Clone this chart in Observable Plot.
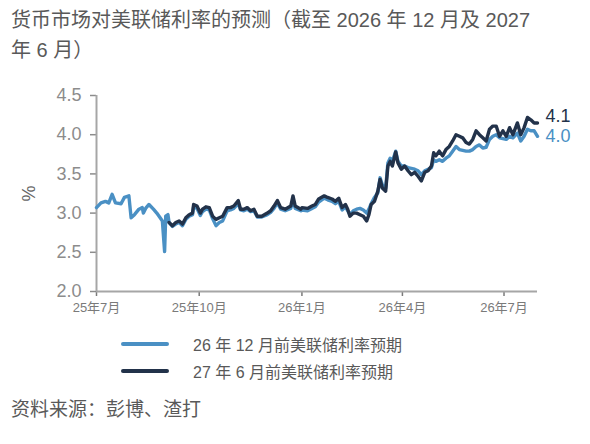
<!DOCTYPE html>
<html>
<head>
<meta charset="utf-8">
<script src="https://cdn.jsdelivr.net/npm/d3@7"></script>
<script src="https://cdn.jsdelivr.net/npm/@observablehq/plot@0.6"></script>
<style>
  html, body { margin:0; padding:0; background:#fff; }
  body { width:590px; height:444px; overflow:hidden; position:relative;
         font-family:"Liberation Sans","Noto Sans CJK SC",sans-serif; color:#595959; }
  #title { position:absolute; left:11px; top:5px; font-size:20px; line-height:30px; white-space:nowrap; }
  #chart { position:absolute; left:0; top:65px; }
  #legend { position:absolute; left:121px; top:330px; font-size:16px; }
  .row { display:flex; align-items:center; height:27.5px; }
  .sw { width:48px; height:4px; border-radius:2px; margin-right:24px; }
  #source { position:absolute; left:11px; top:395px; font-size:19px; line-height:30px; }
</style>
</head>
<body>
<div id="title"></div>
<div id="chart"></div>
<div id="legend"></div>
<div id="source"></div>
<script>
// ---------- text ----------
const titleLines = ["货币市场对美联储利率的预测（截至 2026 年 12 月及 2027", "年 6 月）"];
const sourceText = "资料来源：彭博、渣打";
const seriesNames = ["26 年 12 月前美联储利率预期", "27 年 6 月前美联储利率预期"];
const seriesColors = ["#4a90c4", "#22324a"];
const endLabels = ["4.0", "4.1"];

// ---------- axes ----------
const xStart = "2025-07-01";
const xEnd = "2026-07-31";
const xTicks = ["2025-07-01", "2025-10-01", "2026-01-01", "2026-04-01", "2026-07-01"];
const xTickLabels = ["25年7月", "25年10月", "26年1月", "26年4月", "26年7月"];
const yTicks = [2.0, 2.5, 3.0, 3.5, 4.0, 4.5];
const yLabel = "%";

// ---------- series: Dec-2026 expectation (light blue) ----------
const lightDates = [
  "2025-07-01","2025-07-05","2025-07-09","2025-07-12","2025-07-15","2025-07-18","2025-07-23","2025-07-26",
  "2025-07-30","2025-08-01","2025-08-04","2025-08-08","2025-08-11","2025-08-12","2025-08-14","2025-08-17",
  "2025-08-21","2025-08-24","2025-08-27","2025-08-29","2025-08-31","2025-09-01","2025-09-03",
  "2025-09-04","2025-09-07","2025-09-10","2025-09-13","2025-09-16","2025-09-19","2025-09-22","2025-09-25",
  "2025-09-26","2025-09-29","2025-10-02","2025-10-04","2025-10-07","2025-10-10","2025-10-13","2025-10-16",
  "2025-10-19","2025-10-22","2025-10-26","2025-10-29","2025-11-01","2025-11-05","2025-11-07","2025-11-10",
  "2025-11-13","2025-11-16","2025-11-19","2025-11-22","2025-11-26","2025-12-01","2025-12-04","2025-12-07",
  "2025-12-10","2025-12-13","2025-12-17","2025-12-22","2025-12-24","2025-12-26","2025-12-31",
  "2026-01-01","2026-01-06","2026-01-10","2026-01-13","2026-01-16","2026-01-21","2026-01-24","2026-01-28",
  "2026-01-31","2026-02-03","2026-02-06","2026-02-09","2026-02-11","2026-02-13","2026-02-16","2026-02-19",
  "2026-02-22","2026-02-25","2026-02-28","2026-03-02","2026-03-04","2026-03-07","2026-03-10","2026-03-12",
  "2026-03-14","2026-03-17","2026-03-19","2026-03-21","2026-03-23","2026-03-26","2026-03-28","2026-03-31",
  "2026-04-03","2026-04-06","2026-04-09","2026-04-12","2026-04-15","2026-04-18","2026-04-21","2026-04-24",
  "2026-04-27","2026-04-29","2026-05-01","2026-05-04","2026-05-07","2026-05-10","2026-05-13","2026-05-16",
  "2026-05-19","2026-05-22","2026-05-25","2026-05-28","2026-05-31","2026-06-03","2026-06-06","2026-06-09",
  "2026-06-12","2026-06-15","2026-06-18","2026-06-21","2026-06-24","2026-06-27","2026-06-30","2026-07-03",
  "2026-07-06","2026-07-09","2026-07-13","2026-07-16","2026-07-19","2026-07-22","2026-07-25","2026-07-28",
  "2026-07-31"
];
const lightValues = [
  3.07,3.13,3.15,3.13,3.24,3.13,3.12,3.20,
  3.22,2.94,2.98,3.05,3.07,3.00,3.06,3.11,
  3.05,3.00,2.94,2.90,2.51,2.96,2.98,
  2.88,2.83,2.86,2.88,2.84,2.92,2.96,2.98,
  3.08,3.06,2.97,3.02,3.05,3.04,2.93,2.84,
  2.88,2.90,3.03,3.04,3.06,3.12,3.04,3.03,
  3.05,3.02,3.03,2.95,2.95,2.98,3.01,3.06,
  3.13,3.05,3.03,3.06,3.17,3.06,3.03,
  3.04,3.03,3.06,3.08,3.14,3.19,3.17,3.15,
  3.12,3.15,3.04,3.08,3.03,2.98,3.03,3.05,
  3.06,3.04,3.00,3.05,3.12,3.20,3.26,3.45,
  3.36,3.32,3.64,3.70,3.66,3.79,3.66,3.60,
  3.60,3.58,3.57,3.56,3.54,3.49,3.54,3.56,
  3.58,3.68,3.66,3.68,3.66,3.70,3.73,3.79,
  3.85,3.81,3.80,3.79,3.79,3.81,3.85,3.87,
  3.83,3.84,3.94,3.98,4.00,3.96,3.95,3.94,
  3.98,3.96,4.02,3.92,3.98,4.07,4.05,4.05,
  3.98
];

// ---------- series: Jun-2027 expectation (dark navy) ----------
const darkDates = [
  "2025-09-04","2025-09-07","2025-09-10","2025-09-13","2025-09-16","2025-09-19","2025-09-22","2025-09-25",
  "2025-09-26","2025-09-29","2025-10-02","2025-10-04","2025-10-07","2025-10-10","2025-10-13","2025-10-16",
  "2025-10-19","2025-10-22","2025-10-26","2025-10-29","2025-11-01","2025-11-05","2025-11-07","2025-11-10",
  "2025-11-13","2025-11-16","2025-11-19","2025-11-22","2025-11-26","2025-12-01","2025-12-04","2025-12-07",
  "2025-12-10","2025-12-13","2025-12-17","2025-12-22","2025-12-24","2025-12-26","2025-12-31",
  "2026-01-01","2026-01-06","2026-01-10","2026-01-13","2026-01-16","2026-01-21","2026-01-24","2026-01-28",
  "2026-01-31","2026-02-03","2026-02-06","2026-02-09","2026-02-11","2026-02-13","2026-02-16","2026-02-19",
  "2026-02-22","2026-02-25","2026-02-28","2026-03-02","2026-03-04","2026-03-07","2026-03-10","2026-03-12",
  "2026-03-14","2026-03-17","2026-03-19","2026-03-21","2026-03-23","2026-03-26","2026-03-28","2026-03-31",
  "2026-04-03","2026-04-06","2026-04-09","2026-04-12","2026-04-15","2026-04-18","2026-04-21","2026-04-24",
  "2026-04-27","2026-04-29","2026-05-01","2026-05-04","2026-05-07","2026-05-10","2026-05-13","2026-05-16",
  "2026-05-19","2026-05-22","2026-05-25","2026-05-28","2026-05-31","2026-06-03","2026-06-06","2026-06-09",
  "2026-06-12","2026-06-15","2026-06-18","2026-06-21","2026-06-24","2026-06-27","2026-06-30","2026-07-03",
  "2026-07-06","2026-07-09","2026-07-13","2026-07-16","2026-07-19","2026-07-22","2026-07-25","2026-07-28",
  "2026-07-31"
];
const darkValues = [
  2.88,2.84,2.88,2.90,2.86,2.94,2.98,3.00,
  3.11,3.09,3.00,3.05,3.08,3.07,2.96,2.92,
  2.94,2.96,3.07,3.07,3.09,3.16,3.05,3.05,
  3.07,3.03,3.05,2.96,2.96,3.00,3.03,3.09,
  3.16,3.07,3.05,3.09,3.22,3.09,3.05,
  3.07,3.06,3.09,3.11,3.18,3.22,3.20,3.18,
  3.15,3.19,3.07,3.11,3.05,2.96,3.00,3.00,
  2.98,2.96,2.90,2.98,3.11,3.15,3.28,3.43,
  3.32,3.28,3.60,3.66,3.60,3.78,3.64,3.56,
  3.60,3.54,3.49,3.52,3.47,3.41,3.52,3.54,
  3.60,3.77,3.73,3.79,3.73,3.81,3.85,3.92,
  4.00,3.98,3.96,3.90,3.88,3.94,4.05,4.00,
  3.96,3.92,4.07,4.11,4.11,3.98,4.05,3.98,
  4.09,4.00,4.15,4.00,4.09,4.22,4.19,4.15,
  4.15
];

// ---------- build ----------
const light = lightDates.map((d, i) => ({date: new Date(d), value: lightValues[i]}));
const dark = darkDates.map((d, i) => ({date: new Date(d), value: darkValues[i]}));
const tickLabelMap = new Map(xTicks.map((d, i) => [+new Date(d), xTickLabels[i]]));

document.getElementById("title").innerHTML = titleLines.join("<br>");
document.getElementById("source").textContent = sourceText;
document.getElementById("legend").innerHTML = seriesNames.map((n, i) =>
  `<div class="row"><div class="sw" style="background:${seriesColors[i]}"></div><span>${n}</span></div>`).join("");

const axisGrey = "#8c8c8c";
const chart = Plot.plot({
  width: 590,
  height: 260,
  marginTop: 30,
  marginBottom: 34,
  marginLeft: 96,
  marginRight: 53,
  style: {fontFamily: '"Liberation Sans","Noto Sans CJK SC",sans-serif', background: "transparent", overflow: "visible"},
  x: {type: "utc", domain: [new Date(xStart), new Date(xEnd)]},
  y: {domain: [yTicks[0], yTicks[yTicks.length - 1]]},
  marks: [
    Plot.axisY({ticks: yTicks, tickFormat: d => d.toFixed(1), tickSize: 6, tickPadding: 9,
      fontSize: 18, color: axisGrey, strokeWidth: 1.5,
      label: yLabel, labelAnchor: "center", labelOffset: 74, labelArrow: "none"}),
    Plot.axisX({ticks: xTicks.map(d => new Date(d)), tickFormat: d => tickLabelMap.get(+d),
      tickSize: 5, tickPadding: 6, fontSize: 13, color: "#7a7a7a", strokeWidth: 1.5, label: null}),
    Plot.ruleX([new Date(xStart)], {stroke: "#a6a6a6", strokeWidth: 2}),
    Plot.ruleY([yTicks[0]], {stroke: "#a6a6a6", strokeWidth: 2}),
    Plot.line(light, {x: "date", y: "value", stroke: seriesColors[0], strokeWidth: 3.4, strokeLinejoin: "round"}),
    Plot.line(dark, {x: "date", y: "value", stroke: seriesColors[1], strokeWidth: 3.4, strokeLinejoin: "round"}),
    Plot.text(light, Plot.selectLast({x: "date", y: "value", text: () => endLabels[0], fill: seriesColors[0],
      textAnchor: "start", dx: 8, dy: 0, fontSize: 18})),
    Plot.text(dark, Plot.selectLast({x: "date", y: "value", text: () => endLabels[1], fill: seriesColors[1],
      textAnchor: "start", dx: 8, dy: -7, fontSize: 18}))
  ]
});
// enlarge the y-axis unit label "%" to match the reference
d3.select(chart).selectAll('g[aria-label="y-axis label"]').attr("font-size", 18).attr("fill", "#666")
  .selectAll("text").attr("font-size", 18);
document.getElementById("chart").appendChild(chart);
</script>
</body>
</html>
